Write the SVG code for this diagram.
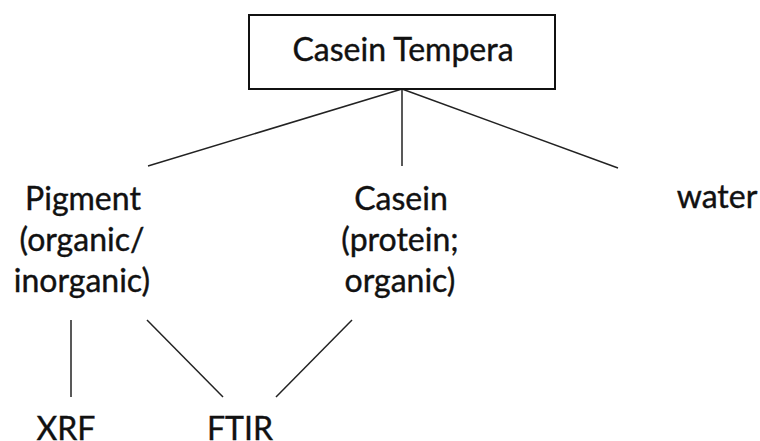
<svg xmlns="http://www.w3.org/2000/svg" width="760" height="441" viewBox="0 0 760 441">
<style>
text{font-family:Lato,"Open Sans",sans-serif;font-size:32px;fill:#111;stroke:#111;stroke-width:0.4;text-anchor:middle}
.c line{stroke:#222;stroke-width:1.5}
.box{fill:#fff;stroke:#111;stroke-width:2}
</style>
<rect width="760" height="441" fill="#fff"/>
<g class="c" id="connectors">
<line x1="402" y1="89" x2="148" y2="166"/>
<line x1="402" y1="89" x2="402" y2="166"/>
<line x1="402" y1="89" x2="618" y2="168"/>
<line x1="71" y1="320" x2="71" y2="397"/>
<line x1="147" y1="320" x2="223" y2="397"/>
<line x1="352" y1="320" x2="276" y2="397"/>
</g>
<g id="casein-tempera"><rect class="box" x="249" y="15" width="306" height="74"/><text x="403" y="61">Casein Tempera</text></g>
<g id="pigment"><text x="83" y="210">Pigment</text><text x="82" y="251">(organic/</text><text x="82" y="292">inorganic)</text></g>
<g id="casein"><text x="401" y="210">Casein</text><text x="400" y="251">(protein;</text><text x="400" y="292">organic)</text></g>
<g id="water"><text x="717" y="208">water</text></g>
<g id="xrf"><text x="66" y="440">XRF</text></g>
<g id="ftir"><text x="240" y="440">FTIR</text></g>
</svg>
